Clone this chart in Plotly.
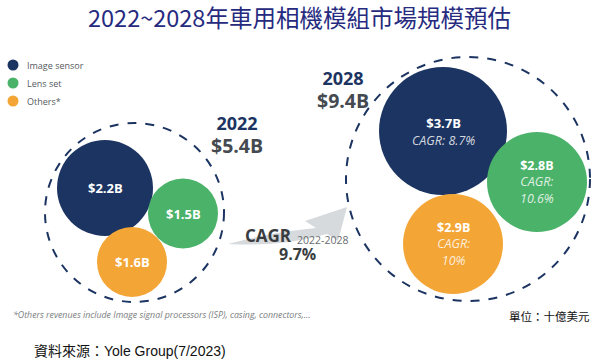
import plotly.graph_objects as go

# ---------------- data ----------------
title_text = "2022~2028年車用相機模組市場規模預估"
years = ["2022", "2028"]
segments = ["Image sensor", "Lens set", "Others*"]
values_2022 = [2.2, 1.5, 1.6]
values_2028 = [3.7, 2.8, 2.9]
cagr_segments = [8.7, 10.6, 10]
totals = [5.4, 9.4]
overall_cagr = 9.7
cagr_period = "2022-2028"
footnote = "*Others revenues include Image signal processors (ISP), casing, connectors,..."
unit_text = "單位：十億美元"
source_text = "資料來源：Yole Group(7/2023)"

# ---------------- layout / style ----------------
W, H = 599, 364
colors = ["#1c3461", "#4bb26a", "#f3a535"]
navy = "#1c3461"
title_color = "#262b80"
label_font = "Open Sans, Lato, sans-serif"

# bubble packing positions (pixel space): (cx, cy, r)
pack_2022 = [(105, 188, 48), (183, 213.5, 35), (132, 262, 35)]
pack_2028 = [(443, 131, 64), (537, 182, 50), (453, 244, 50)]
outer_2022 = (134.5, 212.5, 89.5)
outer_2028 = (468, 179, 122)
year_label_pos = [(237, 135), (343, 90)]

fig = go.Figure()
fig.add_trace(go.Scatter(x=[0, W], y=[0, H], mode="markers",
                         marker=dict(size=1, color="rgba(0,0,0,0)"),
                         hoverinfo="skip", showlegend=False))

shapes = []
annotations = []

# arrow (behind)
shapes.append(dict(type="path", xref="x", yref="y",
                   path="M 228 244 Q 272 232 316 228 L 305 221 L 347 207 L 338 241 L 327 234 Q 282 247 228 244 Z",
                   fillcolor="#d7dadd", line=dict(width=0), layer="below"))

def circle(cx, cy, r, **kw):
    return dict(type="circle", xref="x", yref="y",
                x0=cx - r, x1=cx + r, y0=cy - r, y1=cy + r, **kw)

def text(x, y, t, size, color, family=label_font, xanchor="center"):
    annotations.append(dict(x=x, y=y, text=t, showarrow=False,
                            font=dict(family=family, size=size, color=color),
                            xanchor=xanchor, yanchor="middle", borderpad=0))

# dashed outer circles
for (cx, cy, r) in [outer_2022, outer_2028]:
    shapes.append(circle(cx, cy, r, line=dict(color=navy, width=2, dash="dash"),
                         fillcolor="rgba(0,0,0,0)", layer="below"))

# bubbles 2022
for i, v in enumerate(values_2022):
    cx, cy, r = pack_2022[i]
    shapes.append(circle(cx, cy, r, fillcolor=colors[i], line=dict(width=0)))
    text(cx, cy, f"<b>${v:.1f}B</b>", 13, "white")

# bubbles 2028
cagr_col = "rgba(255,255,255,0.82)"
for i, v in enumerate(values_2028):
    cx, cy, r = pack_2028[i]
    shapes.append(circle(cx, cy, r, fillcolor=colors[i], line=dict(width=0)))
    c = f"{cagr_segments[i]:g}%"
    if i == 0:
        label = (f"<b>${v:.1f}B</b><br>"
                 f"<span style='font-size:12.5px;color:{cagr_col}'><i>CAGR: {c}</i></span>")
        text(cx, cy, label, 13, "white")
    else:
        label = (f"<b>${v:.1f}B</b><br>"
                 f"<span style='font-size:12.5px;color:{cagr_col}'><i>CAGR:</i></span><br>"
                 f"<span style='font-size:12.5px;color:{cagr_col}'><i>{c}</i></span>")
        text(cx, cy, label, 12.5, "white")

# year & total labels
for j, yr in enumerate(years):
    x, y = year_label_pos[j]
    label = (f"<b>{yr}</b><br>"
             f"<span style='font-size:19.5px;color:#444a50'><b>${totals[j]:.1f}B</b></span>")
    text(x, y, label, 18, navy)

# CAGR arrow labels
text(268, 235, "<b>CAGR</b>", 17, "#3a3d40")
text(322, 240, cagr_period, 10.5, "#6a6d70")
text(297, 254, f"<b>{overall_cagr:g}%</b>", 16, "#3a3d40")

# legend
leg_y = [65, 83, 101]
for i, s in enumerate(segments):
    shapes.append(circle(13, leg_y[i], 5.5, fillcolor=colors[i], line=dict(width=0)))
    text(26, leg_y[i], s, 9, "#555a5e", xanchor="left")

# title / notes
text(W / 2, 17, title_text, 23.5, title_color, family="Noto Sans CJK TC")
text(12, 315, f"<i>{footnote}</i>", 8.8, "#7a7d80", xanchor="left")
text(591, 316, unit_text, 11.5, "#111111", family="Noto Sans CJK TC", xanchor="right")
text(33, 351, source_text, 14, "#111111", family="Liberation Sans, Noto Sans CJK TC", xanchor="left")

fig.update_layout(
    width=W, height=H,
    margin=dict(l=0, r=0, t=0, b=0),
    paper_bgcolor="white", plot_bgcolor="white",
    xaxis=dict(range=[0, W], visible=False, fixedrange=True),
    yaxis=dict(range=[H, 0], visible=False, fixedrange=True),
    shapes=shapes, annotations=annotations, showlegend=False,
)

fig.write_html("out.html", config={"displayModeBar": False},
               post_script="document.body.style.margin='0';document.body.style.padding='0';")
